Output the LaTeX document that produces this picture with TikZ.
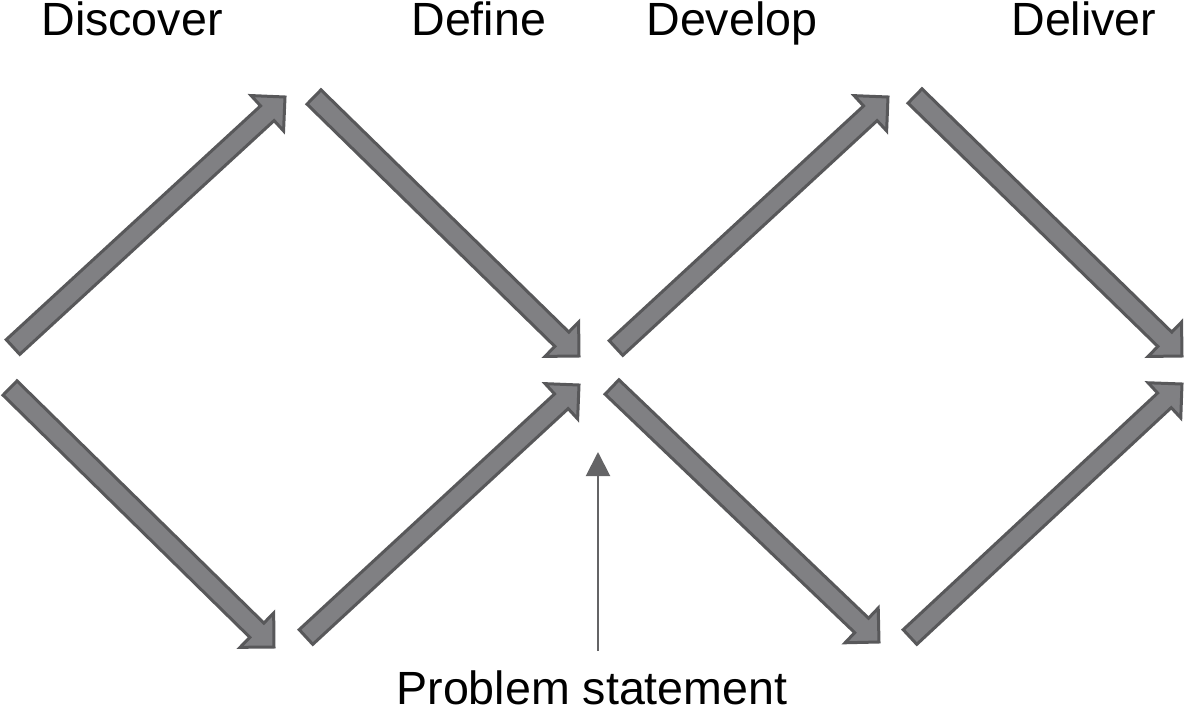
\documentclass[tikz,border=0pt]{standalone}
\usepackage{fontspec}
\setmainfont{Liberation Sans}
\usetikzlibrary{calc,arrows.meta}

\definecolor{arrowfill}{RGB}{128,128,131}
\definecolor{arrowline}{RGB}{88,88,90}
\definecolor{pointergray}{RGB}{100,100,102}

% Block arrow from tail (#1) to tip (#2)
\newcommand{\blockarrow}[2]{%
  \coordinate (hb) at ($(#2)!12pt!(#1)$);
  \draw[blockarrow] ($(#1)!5pt!90:(#2)$) -- ($(hb)!5pt!90:(#2)$)
    -- ($(hb)!12pt!90:(#2)$) -- (#2) -- ($(hb)!12pt!-90:(#2)$)
    -- ($(hb)!5pt!-90:(#2)$) -- ($(#1)!5pt!-90:(#2)$) -- cycle;
}

\begin{document}
\begin{tikzpicture}[
  x=0.5pt, y=-0.5pt,
  line cap=butt,
  line join=miter,
  blockarrow/.style={fill=arrowfill, draw=arrowline, line width=1.5pt},
  phase/.style={font=\fontsize{23.3}{28}\selectfont, inner sep=0pt, anchor=base west},
  pointer/.style={draw=pointergray, line width=1pt, -{Triangle[width=12pt,length=12pt]}}
]
  \useasboundingbox (0,0) rectangle (1185,712);

  % Первый ромб
  \coordinate (T1) at (13,347);   \coordinate (E1) at (285,97);
  \coordinate (T2) at (10,388);   \coordinate (E2) at (274,647);
  \coordinate (T3) at (314,97);   \coordinate (E3) at (579,356);
  \coordinate (T4) at (306,637);  \coordinate (E4) at (579,385);

  % Второй ромб
  \coordinate (T5) at (616,348);  \coordinate (E5) at (888,97);
  \coordinate (T6) at (612,387);  \coordinate (E6) at (879,642);
  \coordinate (T7) at (915,96);   \coordinate (E7) at (1182,356);
  \coordinate (T8) at (910,637);  \coordinate (E8) at (1182,384);

  \blockarrow{T1}{E1}
  \blockarrow{T2}{E2}
  \blockarrow{T3}{E3}
  \blockarrow{T4}{E4}
  \blockarrow{T5}{E5}
  \blockarrow{T6}{E6}
  \blockarrow{T7}{E7}
  \blockarrow{T8}{E8}

  % Подписи
  \node[phase] (discover) at (41,35)   {Discover};
  \node[phase] (define)   at (411,35)  {Define};
  \node[phase] (develop)  at (646,35)  {Develop};
  \node[phase] (deliver)  at (1011,35) {Deliver};
  \node[phase] (problem)  at (396,704) {Problem statement};

  % Указатель
  \coordinate (P0) at (598,651);
  \coordinate (P1) at (598,452);
  \draw[pointer] (P0) -- (P1);
\end{tikzpicture}
\end{document}
